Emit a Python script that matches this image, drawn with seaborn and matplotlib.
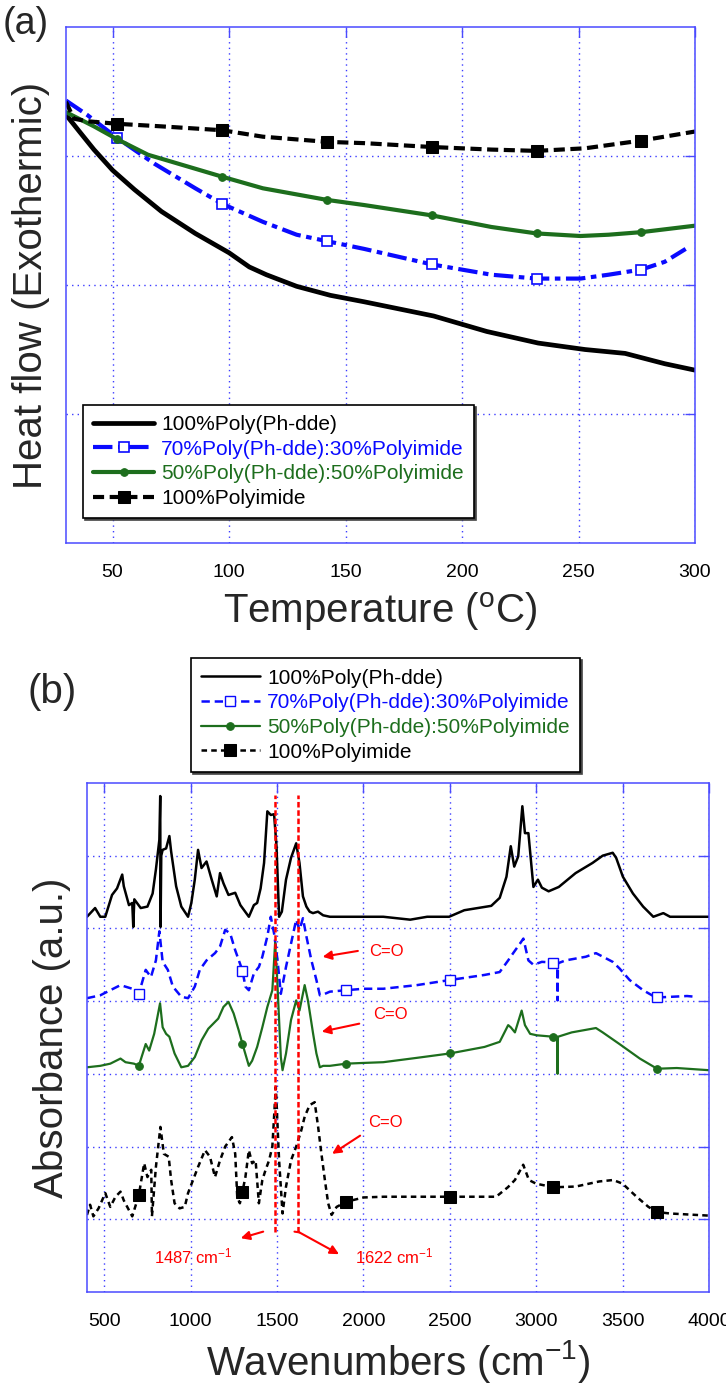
import numpy as np
import matplotlib
matplotlib.use('Agg')
import matplotlib.pyplot as plt
import seaborn as sns

# ===================================================================
# DATA - panel (a): DSC heat flow, arbitrary units
# ===================================================================
series_labels = ['100%Poly(Ph-dde)', '70%Poly(Ph-dde):30%Polyimide',
                 '50%Poly(Ph-dde):50%Polyimide', '100%Polyimide']

dsc_marks = [52, 97, 142, 187, 232, 277]

t_phdde = [30, 36.2, 42, 50, 59.4, 71, 85.5, 100, 108.7, 116, 129, 143.5, 158, 187.8,
           210.6, 232.7, 252.8, 270, 287, 300]
hf_phdde = [3.32, 3.18, 3.05, 2.89, 2.74, 2.57, 2.40, 2.25, 2.14, 2.08, 1.99, 1.92,
            1.87, 1.76, 1.64, 1.55, 1.50, 1.47, 1.39, 1.34]

t_70 = [30, 39, 52, 68, 85.5, 97, 114.5, 129, 142, 158, 187, 212.6, 232, 250.8, 262.9,
        277, 287, 296]
hf_70 = [3.43, 3.32, 3.14, 2.94, 2.75, 2.63, 2.49, 2.39, 2.34, 2.28, 2.16, 2.08, 2.05,
         2.05, 2.08, 2.12, 2.18, 2.28]

t_50 = [30, 42, 52, 65.2, 78.3, 97, 114.5, 142, 158, 187, 212.6, 232, 250.8, 262.9,
        277, 300]
hf_50 = [3.34, 3.23, 3.13, 3.01, 2.94, 2.84, 2.75, 2.66, 2.62, 2.54, 2.45, 2.40, 2.38,
         2.39, 2.41, 2.46]

t_pi = [30, 33.3, 39, 52, 71, 97, 114.5, 142, 158, 187, 212.6, 232, 252.8, 277, 300]
hf_pi = [3.42, 3.29, 3.27, 3.25, 3.23, 3.20, 3.15, 3.11, 3.10, 3.07, 3.05, 3.04, 3.06,
         3.12, 3.19]

# ===================================================================
# DATA - panel (b): FTIR spectra, stacked, arbitrary units
# ===================================================================
ftir_marks = [700, 1300, 1900, 2500, 3100, 3700]

wn_phdde = [400, 447, 477, 506, 545, 574, 604, 613, 643, 662, 668, 674, 711, 750, 780,
            799, 819, 824, 826, 830, 838, 858, 877, 887, 916, 946, 985, 1004, 1024,
            1043, 1063, 1092, 1122, 1151, 1170, 1190, 1219, 1258, 1288, 1337, 1366,
            1385, 1405, 1425, 1444, 1464, 1483, 1497, 1512, 1528, 1552, 1581, 1611,
            1630, 1650, 1670, 1689, 1708, 1737, 1767, 1806, 2115, 2271, 2369, 2496,
            2584, 2740, 2789, 2828, 2853, 2873, 2896, 2920, 2935, 2955, 2984, 3010,
            3033, 3072, 3131, 3228, 3326, 3385, 3443, 3463, 3502, 3560, 3619, 3678,
            3736, 3775, 4000]
ab_phdde = [5.16, 5.28, 5.16, 5.16, 5.46, 5.55, 5.74, 5.58, 5.32, 5.35, 5.02, 5.40,
            5.28, 5.30, 5.48, 5.81, 6.22, 6.82, 5.02, 6.00, 6.08, 6.10, 6.27, 6.06,
            5.58, 5.30, 5.16, 5.35, 5.67, 6.08, 5.83, 5.92, 5.67, 5.44, 5.76, 5.62,
            5.46, 5.49, 5.32, 5.16, 5.32, 5.35, 5.55, 5.90, 6.61, 6.56, 6.57, 6.13,
            5.16, 5.23, 5.67, 5.97, 6.17, 5.90, 5.44, 5.30, 5.23, 5.21, 5.23, 5.18,
            5.16, 5.16, 5.12, 5.16, 5.16, 5.25, 5.31, 5.42, 5.71, 6.13, 5.85, 5.99,
            6.68, 6.31, 6.31, 5.57, 5.67, 5.56, 5.51, 5.57, 5.76, 5.90, 6.00, 6.04,
            5.97, 5.71, 5.48, 5.30, 5.16, 5.21, 5.16, 5.16]

wn_70 = [400, 477, 535, 594, 662, 700, 740, 770, 799, 819, 838, 868, 897, 946, 985,
         1024, 1053, 1092, 1141, 1170, 1200, 1229, 1258, 1300, 1317, 1337, 1366, 1395,
         1415, 1444, 1464, 1483, 1503, 1522, 1552, 1581, 1611, 1630, 1650, 1670, 1699,
         1728, 1748, 1777, 1806, 1900, 2001, 2115, 2310, 2500, 2701, 2789, 2838, 2867,
         2906, 2926, 2955, 2984, 3033, 3100, 3122, 3124, 3126, 3170, 3287, 3346, 3443,
         3482, 3541, 3619, 3678, 3700, 3873, 3920]
ab_70 = [4.04, 4.08, 4.15, 4.22, 4.17, 4.10, 4.43, 4.33, 4.56, 4.96, 4.54, 4.43, 4.20,
         4.06, 4.04, 4.20, 4.43, 4.56, 4.66, 4.75, 4.98, 4.93, 4.70, 4.42, 4.20, 4.15,
         4.38, 4.47, 4.61, 4.89, 5.16, 4.93, 4.56, 4.10, 4.47, 4.79, 5.12, 4.98, 5.14,
         4.89, 4.56, 4.29, 4.08, 4.10, 4.13, 4.15, 4.17, 4.17, 4.22, 4.29, 4.36, 4.40,
         4.56, 4.66, 4.79, 4.86, 4.56, 4.50, 4.54, 4.53, 4.52, 4.01, 4.52, 4.56, 4.61,
         4.66, 4.54, 4.45, 4.29, 4.15, 4.07, 4.05, 4.07, 4.06]

wn_50 = [400, 477, 535, 594, 623, 672, 700, 740, 760, 789, 823, 838, 858, 877, 907,
         946, 985, 1024, 1063, 1102, 1131, 1160, 1190, 1219, 1249, 1278, 1300, 1337,
         1356, 1385, 1415, 1444, 1473, 1489, 1503, 1522, 1532, 1552, 1581, 1611, 1630,
         1660, 1679, 1709, 1728, 1748, 1767, 1806, 1900, 2001, 2115, 2310, 2500, 2701,
         2789, 2838, 2853, 2877, 2916, 2935, 2965, 3004, 3100, 3122, 3124, 3126, 3206,
         3346, 3385, 3482, 3600, 3700, 3814, 4000]
ab_50 = [3.09, 3.11, 3.14, 3.21, 3.16, 3.14, 3.11, 3.41, 3.32, 3.55, 3.97, 3.64, 3.55,
         3.51, 3.28, 3.09, 3.11, 3.23, 3.46, 3.62, 3.69, 3.76, 3.92, 3.99, 3.83, 3.60,
         3.41, 3.11, 3.18, 3.37, 3.64, 3.92, 4.15, 4.80, 4.20, 3.23, 3.05, 3.28, 3.74,
         4.01, 3.87, 4.22, 4.01, 3.55, 3.28, 3.09, 3.11, 3.11, 3.14, 3.15, 3.16, 3.22,
         3.28, 3.37, 3.44, 3.67, 3.64, 3.57, 3.87, 3.67, 3.55, 3.53, 3.51, 3.51, 3.00,
         3.51, 3.57, 3.63, 3.57, 3.41, 3.21, 3.07, 3.08, 3.05]

wn_pi = [400, 418, 437, 467, 506, 535, 565, 594, 613, 633, 662, 700, 731, 750, 772,
         776, 799, 825, 845, 873, 887, 907, 936, 966, 985, 1014, 1043, 1083, 1112,
         1141, 1170, 1200, 1239, 1258, 1270, 1285, 1300, 1317, 1337, 1356, 1376, 1395,
         1415, 1434, 1454, 1473, 1493, 1512, 1532, 1552, 1581, 1611, 1640, 1660, 1689,
         1718, 1738, 1757, 1777, 1796, 1816, 1845, 1900, 2001, 2118, 2500, 2768, 2836,
         2877, 2925, 2958, 2999, 3100, 3229, 3365, 3446, 3500, 3581, 3650, 3700, 3772,
         4000]
ab_pi = [1.06, 1.20, 1.04, 1.15, 1.36, 1.17, 1.31, 1.38, 1.26, 1.17, 1.04, 1.33, 1.77,
         1.58, 1.68, 1.04, 1.72, 2.27, 1.90, 1.86, 1.54, 1.22, 1.15, 1.17, 1.36, 1.54,
         1.72, 1.95, 1.86, 1.58, 1.81, 2.00, 2.13, 1.90, 1.30, 1.22, 1.38, 1.58, 1.95,
         1.77, 1.81, 1.22, 1.54, 1.68, 1.81, 2.00, 2.82, 1.81, 1.08, 1.45, 1.81, 2.00,
         2.22, 2.41, 2.57, 2.61, 2.27, 1.90, 1.54, 1.22, 1.06, 1.17, 1.24, 1.30, 1.31,
         1.31, 1.31, 1.44, 1.54, 1.75, 1.54, 1.49, 1.44, 1.45, 1.52, 1.54, 1.49, 1.31,
         1.17, 1.10, 1.08, 1.05]

peak_wn = [1487, 1622]
peak_labels = ['1487 cm$^{-1}$', '1622 cm$^{-1}$']

# ===================================================================
# STYLE
# ===================================================================
sns.set_style('white')
plt.rcParams['font.family'] = ['Liberation Sans', 'DejaVu Sans']
plt.rcParams['mathtext.fontset'] = 'custom'
plt.rcParams['mathtext.rm'] = 'Liberation Sans'
plt.rcParams['mathtext.it'] = 'Liberation Sans'
plt.rcParams['lines.scale_dashes'] = False

BLUE = '#0a0aff'
GREEN = '#1d6e1d'
FRAME = '#4a4aff'
text_colors = ['black', BLUE, GREEN, 'black']


def draw(ax, x, y, marks=None, **style):
    x = np.asarray(x, dtype=float)
    if marks is not None:
        style['markevery'] = list(np.flatnonzero(np.isin(x, marks)))
    sns.lineplot(x=x, y=np.asarray(y, dtype=float), ax=ax, sort=False,
                 estimator=None, legend=False, **style)


def frame(ax):
    for sp in ax.spines.values():
        sp.set_color(FRAME)
        sp.set_linewidth(1.1)
    ax.set_axisbelow(True)
    ax.grid(True, color='#3c3cff', linestyle=(0, (1, 3)), linewidth=1.0)
    ax.tick_params(direction='in', length=7, width=1, color=FRAME, top=True,
                   right=True, labelsize=14, pad=15, labelcolor='black')
    ax.tick_params(axis='y', labelleft=False)


def legend(ax, anchor, handlelength):
    leg = ax.legend(loc='lower left', bbox_to_anchor=anchor, borderaxespad=0,
                    fontsize=15, frameon=True, fancybox=False, edgecolor='black',
                    framealpha=1, handlelength=handlelength, handletextpad=0.35,
                    labelspacing=0.27, borderpad=0.5, numpoints=1,
                    shadow={'ox': 1.5, 'oy': -1.5, 'color': '#444444', 'alpha': 1})
    leg.get_frame().set_linewidth(1.2)
    for txt, c in zip(leg.get_texts(), text_colors):
        txt.set_color(c)
    return leg


fig = plt.figure(figsize=(7.26, 13.87), dpi=100)
ax_a = fig.add_axes([0.0909, 0.6085, 0.8664, 0.3720])
ax_b = fig.add_axes([0.1198, 0.0685, 0.8567, 0.3670])

# ===================================================================
# PANEL (a)
# ===================================================================
draw(ax_a, t_phdde, hf_phdde, color='black', linewidth=3.4, label=series_labels[0])
draw(ax_a, t_70, hf_70, dsc_marks, color=BLUE, linewidth=3.0,
     linestyle=(0, (14, 4, 4, 4)), marker='s', markersize=7,
     markerfacecolor='white', markeredgecolor=BLUE, markeredgewidth=1.2,
     label=series_labels[1])
draw(ax_a, t_50, hf_50, dsc_marks, color=GREEN, linewidth=3.0, marker='o',
     markersize=5.5, markerfacecolor=GREEN, markeredgecolor=GREEN,
     label=series_labels[2])
draw(ax_a, t_pi, hf_pi, dsc_marks, color='black', linewidth=3.0,
     linestyle=(0, (8, 4)), marker='s', markersize=9, markerfacecolor='black',
     markeredgecolor='black', label=series_labels[3])

ax_a.set_xlim(30, 300)
ax_a.set_ylim(0, 4)
ax_a.set_xticks([50, 100, 150, 200, 250, 300])
ax_a.set_yticks([1, 2, 3])
frame(ax_a)
ax_a.set_xlabel(r'Temperature ($^{\mathrm{o}}$C)', fontsize=29, va='center')
ax_a.xaxis.set_label_coords(0.5, -0.132)
ax_a.set_ylabel('Heat flow (Exothermic)', fontsize=29, va='center')
ax_a.yaxis.set_label_coords(-0.056, 0.5)
legend(ax_a, (0.027, 0.048), 2.9)

# ===================================================================
# PANEL (b)
# ===================================================================
draw(ax_b, wn_phdde, ab_phdde, color='black', linewidth=1.8, label=series_labels[0])
draw(ax_b, wn_70, ab_70, ftir_marks, color=BLUE, linewidth=1.8,
     linestyle=(0, (6, 3.5)), marker='s', markersize=6.5,
     markerfacecolor='white', markeredgecolor=BLUE, markeredgewidth=1.0,
     label=series_labels[1])
draw(ax_b, wn_50, ab_50, ftir_marks, color=GREEN, linewidth=1.6, marker='o',
     markersize=5.5, markerfacecolor=GREEN, markeredgecolor=GREEN,
     label=series_labels[2])
draw(ax_b, wn_pi, ab_pi, ftir_marks, color='black', linewidth=1.8,
     linestyle=(0, (4, 3)), marker='s', markersize=8, markerfacecolor='black',
     markeredgecolor='black', label=series_labels[3])

ax_b.vlines(peak_wn, 0.83, 6.84, colors='red', linestyles=(0, (4, 2)), linewidth=1.8)

ax_b.set_xlim(400, 4000)
ax_b.set_ylim(0, 7)
ax_b.set_xticks([500, 1000, 1500, 2000, 2500, 3000, 3500, 4000])
ax_b.set_yticks([1, 2, 3, 4, 5, 6])
frame(ax_b)
ax_b.set_xlabel('Wavenumbers (cm$^{-1}$)', fontsize=29, va='center')
ax_b.xaxis.set_label_coords(0.5, -0.1375)
ax_b.set_ylabel('Absorbance (a.u.)', fontsize=29, va='center')
ax_b.yaxis.set_label_coords(-0.056, 0.5)
legend(ax_b, (0.167, 1.0216), 2.8)

arrow = dict(arrowstyle='-|>', color='red', lw=1.5, mutation_scale=13,
             shrinkA=0, shrinkB=0)
for txt_xy, tail, head in [((2131, 4.68), (1968, 4.69), (1764, 4.61)),
                           ((2154, 3.81), (1976, 3.69), (1759, 3.58)),
                           ((2125, 2.33), (1981, 2.15), (1819, 1.90))]:
    ax_b.text(*txt_xy, 'C=O', color='red', fontsize=12, ha='center', va='center')
    ax_b.annotate('', xy=head, xytext=tail, arrowprops=arrow)

ax_b.annotate('', xy=(1290, 0.74), xytext=(1420, 0.83), arrowprops=arrow)
ax_b.annotate('', xy=(1859, 0.52), xytext=(1629, 0.82), arrowprops=arrow)
ax_b.plot([1601, 1629], [0.83, 0.82], color='red', lw=1.5)
ax_b.text(1018, 0.485, peak_labels[0], color='red', fontsize=12, ha='center', va='center')
ax_b.text(2178, 0.485, peak_labels[1], color='red', fontsize=12, ha='center', va='center')

fig.text(3 / 726, 1 - 6 / 1387, '(a)', fontsize=27, ha='left', va='top')
fig.text(28 / 726, 1 - 692 / 1387, '(b)', fontsize=29, ha='left', va='center')

fig.savefig('out.png', dpi=100)
plt.close(fig)
